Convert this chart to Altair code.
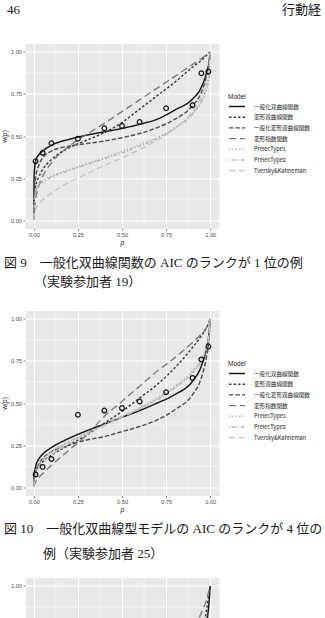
import altair as alt
import pandas as pd

# ---------------- data ----------------
MODELS = ["一般化双曲線関数", "変形双曲線関数", "一般化変形双曲線関数", "変形指数関数",
          "PrelecType1", "PrelecType2", "Tversky&Kahneman"]

P_OBS = [0.01, 0.05, 0.10, 0.25, 0.40, 0.50, 0.60, 0.75, 0.90, 0.95, 0.99]
W_OBS_1 = [0.35, 0.40, 0.457, 0.484, 0.546, 0.56, 0.583, 0.665, 0.683, 0.873, 0.883]
W_OBS_2 = [0.075, 0.12, 0.167, 0.43, 0.455, 0.47, 0.509, 0.564, 0.649, 0.759, 0.836]

P_GRID = [0, 0.002, 0.01, 0.03, 0.05, 0.1, 0.2, 0.3, 0.4, 0.5, 0.6, 0.7, 0.8, 0.9, 0.95, 0.98, 0.995, 1]

# figure 9 (participant 19)
C1_GH = [0, 0.27, 0.35, 0.39, 0.41, 0.445, 0.48, 0.505, 0.525, 0.545, 0.57, 0.60, 0.655, 0.72, 0.79, 0.88, 0.95, 1]
C1_MH = [0, 0.12, 0.20, 0.26, 0.30, 0.36, 0.43, 0.475, 0.52, 0.58, 0.66, 0.74, 0.82, 0.91, 0.95, 0.98, 0.995, 1]
C1_GMH = [0, 0.15, 0.25, 0.33, 0.37, 0.41, 0.44, 0.455, 0.47, 0.49, 0.515, 0.55, 0.60, 0.68, 0.76, 0.86, 0.94, 1]
C1_ME = [0, 0.05, 0.12, 0.21, 0.26, 0.34, 0.44, 0.51, 0.575, 0.645, 0.715, 0.785, 0.855, 0.925, 0.96, 0.985, 0.996, 1]
C1_PR1 = [0, 0.13, 0.18, 0.22, 0.235, 0.26, 0.30, 0.335, 0.37, 0.41, 0.45, 0.49, 0.55, 0.635, 0.70, 0.775, 0.855, 1]
C1_PR2 = [0, 0.10, 0.16, 0.21, 0.225, 0.255, 0.295, 0.33, 0.365, 0.40, 0.44, 0.485, 0.545, 0.63, 0.71, 0.80, 0.89, 1]
C1_TK = [0, 0.03, 0.06, 0.10, 0.12, 0.16, 0.225, 0.275, 0.325, 0.37, 0.42, 0.475, 0.545, 0.645, 0.735, 0.835, 0.93, 1]

# figure 10 (participant 25)
C2_GH = [0, 0.07, 0.12, 0.17, 0.195, 0.235, 0.29, 0.335, 0.375, 0.415, 0.455, 0.50, 0.55, 0.63, 0.72, 0.83, 0.93, 1]
C2_MH = [0, 0.05, 0.09, 0.13, 0.15, 0.19, 0.25, 0.31, 0.38, 0.45, 0.53, 0.61, 0.71, 0.83, 0.90, 0.95, 0.985, 1]
C2_GMH = [0, 0.05, 0.09, 0.14, 0.17, 0.21, 0.25, 0.28, 0.30, 0.33, 0.36, 0.40, 0.46, 0.55, 0.65, 0.78, 0.90, 1]
C2_ME = [0, 0.01, 0.03, 0.06, 0.08, 0.13, 0.22, 0.31, 0.42, 0.51, 0.60, 0.69, 0.77, 0.86, 0.91, 0.95, 0.985, 1]
C2_PR1 = [0, 0.06, 0.10, 0.15, 0.17, 0.21, 0.27, 0.32, 0.37, 0.42, 0.47, 0.53, 0.60, 0.69, 0.76, 0.84, 0.92, 1]
C2_PR2 = [0, 0.04, 0.08, 0.13, 0.16, 0.21, 0.27, 0.32, 0.37, 0.42, 0.47, 0.52, 0.59, 0.68, 0.75, 0.83, 0.91, 1]
C2_TK = [0, 0.02, 0.06, 0.11, 0.14, 0.19, 0.26, 0.315, 0.365, 0.415, 0.465, 0.525, 0.595, 0.685, 0.76, 0.84, 0.92, 1]

# next figure (only its top edge is visible)
C3_GH = [0, 0.05, 0.08, 0.12, 0.14, 0.18, 0.23, 0.27, 0.31, 0.35, 0.39, 0.44, 0.50, 0.58, 0.66, 0.78, 0.92, 1]
C3_MH = [0, 0.03, 0.06, 0.10, 0.12, 0.16, 0.22, 0.27, 0.31, 0.35, 0.40, 0.45, 0.52, 0.60, 0.70, 0.86, 0.97, 1]
C3_ME = [0, 0.02, 0.05, 0.09, 0.12, 0.17, 0.25, 0.32, 0.39, 0.46, 0.53, 0.60, 0.67, 0.74, 0.84, 0.92, 0.98, 1]

LINE_COLORS = ["#1a1a1a", "#3a3a3a", "#4f4f4f", "#7a7a7a", "#a6a6a6", "#b3b3b3", "#c4c4c4"]
LINE_DASHES = [[1, 0], [2.5, 2], [4.5, 2], [7, 4], [1.2, 2.2], [1.2, 2, 3.5, 2], [6, 3.5]]
LINE_WIDTHS = [1.5, 1.3, 1.2, 1.2, 1.3, 1.2, 1.2]

TICKS = [0, 0.25, 0.5, 0.75, 1]
MINOR = [0.125, 0.375, 0.625, 0.875]

SANS = "Liberation Sans"
JP = "Noto Sans CJK JP"
SERIF = "Liberation Serif, Noto Sans CJK JP"

W, H = 194, 185
X_DOM = [-0.05, 1.05]


def curve_frame(curves):
    rows = []
    for model, ws in curves:
        for i, (p, w) in enumerate(zip(P_GRID, ws)):
            rows.append({"p": p, "w": w, "model": model, "i": i})
    return pd.DataFrame(rows)


def text_layer(txt, x, y, size=13, font=SERIF, align="left", limit=0):
    kw = dict(font=font, fontSize=size, align=align, baseline="middle", color="#1a1a1a")
    if limit:
        kw["limit"] = limit
        kw["ellipsis"] = "\u200b"
    return alt.Chart(pd.DataFrame({"t": [txt]})).mark_text(**kw).encode(
        x=alt.value(x), y=alt.value(y), text="t:N")


def panel(curves, obs_w, texts, legend_on=True, y_dom=(-0.05, 1.05), height=H,
          y_ticks=TICKS, full_x=True, y_title="w(p)"):
    xs = alt.Scale(domain=X_DOM, nice=False, zero=False)
    ys = alt.Scale(domain=list(y_dom), nice=False, zero=False)
    if full_x:
        ax = alt.Axis(values=TICKS, format=".2f", grid=True, gridColor="white", gridWidth=1,
                      domain=False, tickColor="#333333", tickSize=2, tickWidth=0.6,
                      labelFont=SANS, labelFontSize=5.7, labelColor="#4d4d4d", labelPadding=1,
                      title="p", titleFont=SANS, titleFontSize=7, titleFontStyle="italic",
                      titleFontWeight="normal", titleColor="#1a1a1a", titlePadding=1)
    else:
        ax = alt.Axis(values=TICKS, grid=True, gridColor="white", gridWidth=1, domain=False,
                      labels=False, ticks=False, title="")
    ay = alt.Axis(values=y_ticks, format=".2f", grid=True, gridColor="white", gridWidth=1,
                  domain=False, tickColor="#333333", tickSize=2, tickWidth=0.6,
                  labelFont=SANS, labelFontSize=5.7, labelColor="#4d4d4d", labelPadding=1.5,
                  title=y_title, titleFont=SANS, titleFontSize=6.5, titleFontWeight="normal",
                  titleColor="#1a1a1a", titlePadding=3)

    def X(f):
        return alt.X(f, type="quantitative", scale=xs, axis=ax)

    def Y(f):
        return alt.Y(f, type="quantitative", scale=ys, axis=ay)

    minor_df = pd.DataFrame({"v": MINOR})
    vgrid = alt.Chart(minor_df).mark_rule(color="white", strokeWidth=0.5, clip=True).encode(x=X("v"))
    hgrid = alt.Chart(minor_df).mark_rule(color="white", strokeWidth=0.5, clip=True).encode(y=Y("v"))

    if legend_on:
        leg = alt.Legend(orient="none", legendX=203, legendY=50.5, title="Model",
                         titleFont=SANS, titleFontSize=6.5, titleFontWeight="normal",
                         titleColor="#1a1a1a", titlePadding=2.5,
                         labelFont=JP, labelFontSize=5.6, labelColor="#1a1a1a",
                         symbolType="stroke", symbolSize=256, labelOffset=8,
                         clipHeight=7, rowPadding=2.7, symbolStrokeWidth=1.2)
    else:
        leg = None

    lines = alt.Chart(curve_frame(curves)).mark_line(interpolate="monotone", clip=True).encode(
        x=X("p"), y=Y("w"),
        color=alt.Color("model:N", scale=alt.Scale(domain=MODELS, range=LINE_COLORS), legend=leg),
        strokeDash=alt.StrokeDash("model:N", scale=alt.Scale(domain=MODELS, range=LINE_DASHES), legend=leg),
        strokeWidth=alt.StrokeWidth("model:N", scale=alt.Scale(domain=MODELS, range=LINE_WIDTHS), legend=leg),
        detail="model:N",
        order="i:Q",
    )
    layers = [vgrid, hgrid, lines]
    if obs_w:
        pts = alt.Chart(pd.DataFrame({"p": P_OBS, "w": obs_w})).mark_point(
            shape="circle", filled=False, color="#111111", size=22, strokeWidth=1.2, opacity=1
        ).encode(x=X("p"), y=Y("w"))
        layers.append(pts)
    layers += texts
    return alt.layer(*layers).properties(width=W, height=height)


c1 = panel(
    list(zip(MODELS, [C1_GH, C1_MH, C1_GMH, C1_ME, C1_PR1, C1_PR2, C1_TK])),
    W_OBS_1,
    [
        text_layer("46", -18, -33.5),
        text_layer("行動経済学", 257, -33.5, limit=42),
        text_layer("図 9　一般化双曲線関数の AIC のランクが 1 位の例", -21, 219.4),
        text_layer("（実験参加者 19）", 9, 238.4),
    ],
)
c2 = panel(
    list(zip(MODELS, [C2_GH, C2_MH, C2_GMH, C2_ME, C2_PR1, C2_PR2, C2_TK])),
    W_OBS_2,
    [
        text_layer("図 10　一般化双曲線型モデルの AIC のランクが 4 位の", -21, 218.5),
        text_layer("例（実験参加者 25）", 18, 243.5),
    ],
)
c3 = panel(
    [(MODELS[0], C3_GH), (MODELS[1], C3_MH), (MODELS[3], C3_ME)],
    None,
    [],
    legend_on=False,
    y_dom=(1.05 - 41 / 168.5, 1.05),
    height=41,
    y_ticks=[1.0],
    full_x=False,
    y_title="",
)

chart = alt.vconcat(c1, c2, c3, spacing=82, bounds="flush").resolve_scale(
    x="independent", y="independent", color="independent",
    strokeDash="independent", strokeWidth="independent",
).configure_view(fill="#e8e8e8", stroke="transparent").properties(
    padding={"left": 0, "top": 3.5, "right": 0, "bottom": 0}, background="white"
)

chart.save("out.html", embed_options={"renderer": "svg", "actions": False})
